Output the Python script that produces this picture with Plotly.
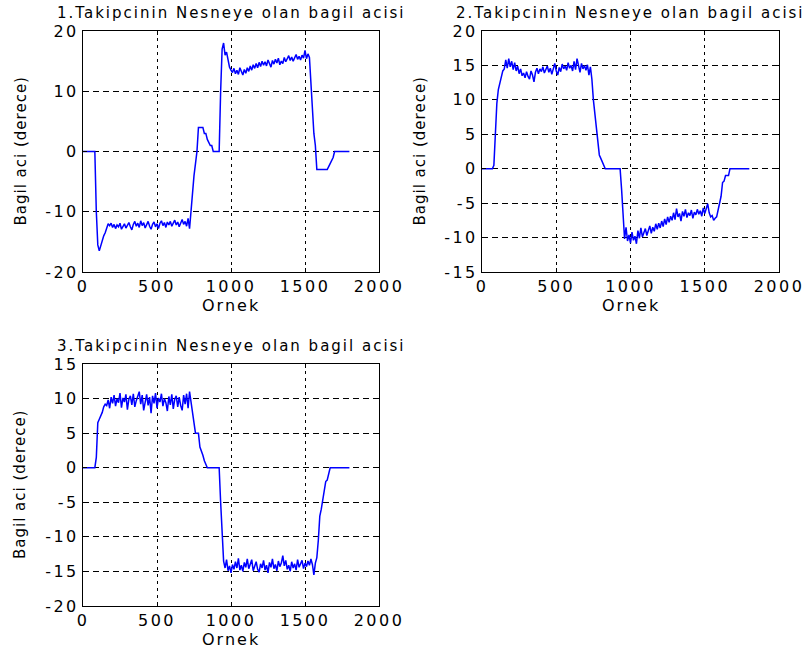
import plotly.graph_objects as go

ornek = [0, 10, 20, 30, 40, 50, 60, 70, 80, 90,
         100, 110, 120, 130, 140, 150, 160, 170, 180, 190,
         200, 210, 220, 230, 240, 250, 260, 270, 280, 290,
         300, 310, 320, 330, 340, 350, 360, 370, 380, 390,
         400, 410, 420, 430, 440, 450, 460, 470, 480, 490,
         500, 510, 520, 530, 540, 550, 560, 570, 580, 590,
         600, 610, 620, 630, 640, 650, 660, 670, 680, 690,
         700, 710, 720, 730, 740, 750, 760, 770, 780, 790,
         800, 810, 820, 830, 840, 850, 860, 870, 880, 890,
         900, 910, 920, 930, 940, 950, 960, 970, 980, 990,
         1000, 1010, 1020, 1030, 1040, 1050, 1060, 1070, 1080, 1090,
         1100, 1110, 1120, 1130, 1140, 1150, 1160, 1170, 1180, 1190,
         1200, 1210, 1220, 1230, 1240, 1250, 1260, 1270, 1280, 1290,
         1300, 1310, 1320, 1330, 1340, 1350, 1360, 1370, 1380, 1390,
         1400, 1410, 1420, 1430, 1440, 1450, 1460, 1470, 1480, 1490,
         1500, 1510, 1520, 1530, 1540, 1550, 1560, 1570, 1580, 1590,
         1600, 1610, 1620, 1630, 1640, 1650, 1660, 1670, 1680, 1690,
         1700, 1710, 1720, 1730, 1740, 1750, 1760, 1770, 1780, 1790,
         1800]

aci1 = [0, 0, 0, 0, 0, 0, 0, 0, 0, -10,
        -15.5, -16.5, -15.5, -14.5, -14, -13.5, -12.5, -12, -12.3, -11.9,
        -12.6, -12.1, -12.8, -12.2, -12.5, -11.9, -12.9, -12.3, -12.0, -12.7,
        -12.2, -11.8, -12.5, -13.0, -12.1, -11.6, -12.4, -11.9, -12.6, -11.5,
        -12.3, -11.8, -12.7, -12.0, -11.6, -12.4, -12.9, -12.1, -11.7, -12.5,
        -12.0, -12.8, -11.9, -11.5, -12.3, -11.8, -12.6, -11.7, -12.2, -11.6,
        -12.4, -11.9, -11.4, -12.2, -11.7, -12.5, -11.8, -11.3, -12.1, -11.6,
        -12.4, -11.1, -12.8, -9.5, -7, -4, -2, 0, 4, 4,
        4, 4, 3, 3, 2, 1.5, 1, 1, 0, 0,
        0, 0, 0, 10, 17, 18, 16, 16.5, 15, 14,
        13.5, 13.1, 13.8, 12.9, 13.5, 12.8, 13.9, 13.2, 12.7, 13.6,
        13.0, 13.9, 13.3, 14.2, 13.5, 14.4, 13.8, 14.6, 13.9, 14.8,
        14.1, 15.0, 14.3, 14.9, 14.2, 15.2, 14.6, 14.0, 15.1, 14.5,
        15.3, 14.7, 15.5, 14.4, 15.0, 14.6, 15.6, 14.9, 15.4, 15.9,
        15.1, 15.7, 15.0, 15.6, 16.1, 15.3, 15.8, 15.2, 16.0, 15.5,
        16.8, 15.4, 16.2, 15.6, 11, 8, 3, 1, -3, -3,
        -3, -3, -3, -3, -3, -3, -2.5, -2, -1.5, -1,
        0, 0, 0, 0, 0, 0, 0, 0, 0, 0,
        0]

aci2 = [0, 0, 0, 0, 0, 0, 0, 0, 0.5, 5,
        9.5, 11.5, 12.5, 13.5, 14.2, 14.5, 15.8, 14.6, 16.0, 14.8,
        15.6, 14.4, 15.4, 14.2, 14.9, 13.8, 14.5, 13.5, 13.9, 13.2,
        14.1, 13.4, 13.0, 14.2, 13.6, 12.6, 14.0, 14.6, 13.8, 14.5,
        14.1, 14.8, 13.9, 14.4, 14.9, 14.0, 14.6, 13.7, 14.4, 15.3,
        14.2, 13.6, 14.7, 14.1, 15.2, 14.5, 14.9, 14.3, 15.4, 14.6,
        15.0, 14.2, 15.6, 14.4, 16.0, 14.8, 14.0, 15.3, 14.5, 15.0,
        14.3, 15.1, 13.6, 14.8, 13, 10, 8, 5, 3.5, 2,
        1.5, 1, 0.5, 0, 0, 0, 0, 0, 0, 0,
        0, 0, 0, 0, -3, -7, -10.2, -8.5, -10.5, -9.6,
        -10.8, -9.2, -10.4, -9.8, -10.9, -9.0, -10.1, -8.6, -9.9, -9.3,
        -8.7, -9.7, -8.9, -8.3, -9.4, -8.5, -9.1, -8.0, -8.8, -7.9,
        -8.6, -7.6, -8.4, -7.3, -8.1, -7.0, -7.8, -6.9, -7.5, -6.4,
        -7.4, -5.8, -7.0, -6.5, -7.6, -6.2, -6.9, -5.9, -7.1, -6.4,
        -6.8, -6.0, -7.2, -6.3, -6.7, -5.9, -6.6, -6.1, -6.9, -5.7,
        -6.5, -5.8, -5.1, -6.4, -7.0, -6.8, -7.5, -7.2, -7.0, -6,
        -5, -4, -2, -1.8, -1, -1, -1, 0, 0, 0,
        0, 0, 0, 0, 0, 0, 0, 0, 0, 0,
        0]

aci3 = [0, 0, 0, 0, 0, 0, 0, 0, 0, 1.5,
        6.5, 7, 7.5, 8, 8.8, 9.2, 9.0, 9.8, 8.6, 10.2,
        9.3, 10.5, 8.9, 10.0, 9.4, 10.8, 8.7, 10.1, 9.5, 10.6,
        8.4, 9.9, 10.4, 9.1, 10.7, 8.8, 9.7, 10.3, 11.0, 9.2,
        10.5, 8.3, 9.8, 10.6, 9.0, 10.2, 7.9, 10.4, 9.3, 10.8,
        8.6, 10.1, 9.5, 10.7, 8.9, 10.0, 9.4, 8.2, 10.3, 9.1,
        10.6, 8.5, 9.9, 10.4, 8.8, 10.2, 9.0, 8.3, 10.5, 9.2,
        10.7, 8.6, 11.0, 9.4, 8, 7, 5, 5, 5, 3,
        2.5, 1.8, 1, 0.5, 0, 0, 0, 0, 0, 0,
        0, 0, 0, -5, -10.5, -13.5, -14.5, -13.3, -14.9, -14.2,
        -15.2, -14.0, -14.7, -13.6, -14.5, -13.1, -14.8, -14.1, -15.0, -13.7,
        -14.4, -13.2, -14.6, -14.0, -13.3, -14.9, -14.3, -13.6, -14.7, -15.1,
        -13.9, -14.5, -13.4, -14.8, -14.1, -15.2, -13.7, -14.4, -13.2, -14.6,
        -14.0, -14.9, -13.5, -14.3, -13.8, -12.7, -14.2, -13.4, -14.7, -14.1,
        -15.0, -13.6, -14.5, -13.9, -14.8, -13.3, -14.4, -14.0, -13.4, -14.6,
        -13.8, -14.3, -13.5, -14.1, -13.2, -14.0, -15.5, -13.8, -13, -10.5,
        -7, -6, -4.5, -3, -2, -1.8, -1, 0, 0, 0,
        0, 0, 0, 0, 0, 0, 0, 0, 0, 0,
        0]

xticks = [0, 500, 1000, 1500, 2000]
yticks1 = [-20, -10, 0, 10, 20]
yticks2 = [-15, -10, -5, 0, 5, 10, 15, 20]
yticks3 = [-20, -15, -10, -5, 0, 5, 10, 15]
titles = ["1.Takipcinin Nesneye olan bagil acisi",
          "2.Takipcinin Nesneye olan bagil acisi",
          "3.Takipcinin Nesneye olan bagil acisi"]
xlabel = "Ornek"
ylabel = "Bagil aci (derece)"

W, H = 806, 652
FONT = "DejaVu Sans"


def spaced(s, px):
    return '<span style="letter-spacing:%spx">%s</span>' % (px, s)


# panel boxes in pixels: left, right, top, bottom
boxes = [(83, 379, 31, 272), (482, 779, 31, 272), (83, 379, 364, 606)]
series = [aci1, aci2, aci3]
yr = [(-20, 20), (-15, 20), (-20, 15)]
ytk = [yticks1, yticks2, yticks3]

fig = go.Figure()
annotations = []
for i, (box, ys, rng, tks) in enumerate(zip(boxes, series, yr, ytk)):
    l, r, t, b = box
    n = "" if i == 0 else str(i + 1)
    xa, ya = "xaxis" + n, "yaxis" + n
    fig.add_trace(go.Scatter(x=ornek, y=ys, mode="lines",
                             line=dict(color="#0000ff", width=1.5),
                             xaxis="x" + n, yaxis="y" + n, showlegend=False,
                             hoverinfo="skip"))
    common = dict(showline=True, linecolor="black", linewidth=1, mirror="allticks",
                  ticks="inside", ticklen=4, tickcolor="black",
                  showgrid=True, gridcolor="black", gridwidth=1,
                  zeroline=False, automargin=False,
                  tickfont=dict(family=FONT, size=16, color="black"))
    fig.update_layout({
        xa: dict(common, domain=[l / W, r / W], range=[0, 2000], tickvals=xticks,
                 ticktext=[spaced(v, 2.5) for v in xticks],
                 griddash="3px,4px", anchor="y" + n),
        ya: dict(common, domain=[1 - b / H, 1 - t / H], range=list(rng), tickvals=tks,
                 ticktext=[spaced(v, 2.5) for v in tks],
                 griddash="6px,4px", anchor="x" + n),
    })
    cx = (l + r) / 2 / W
    annotations.append(dict(text=spaced(titles[i], 2), x=cx, y=1 - (t - 18) / H, xref="paper", yref="paper",
                            showarrow=False, font=dict(family=FONT, size=15, color="black"),
                            xanchor="center", yanchor="middle"))
    annotations.append(dict(text=spaced(xlabel, 2), x=cx, y=1 - (b + 33) / H, xref="paper", yref="paper",
                            showarrow=False, font=dict(family=FONT, size=16, color="black"),
                            xanchor="center", yanchor="middle"))
    annotations.append(dict(text=spaced(ylabel, 1), x=(l - 63) / W, y=1 - (t + b) / 2 / H, xref="paper", yref="paper",
                            showarrow=False, textangle=-90, font=dict(family=FONT, size=15, color="black"),
                            xanchor="center", yanchor="middle"))

fig.update_layout(template="none", width=W, height=H, margin=dict(l=0, r=0, t=0, b=0, pad=0),
                  plot_bgcolor="white", paper_bgcolor="white",
                  annotations=annotations)
fig.write_html("out.html")
